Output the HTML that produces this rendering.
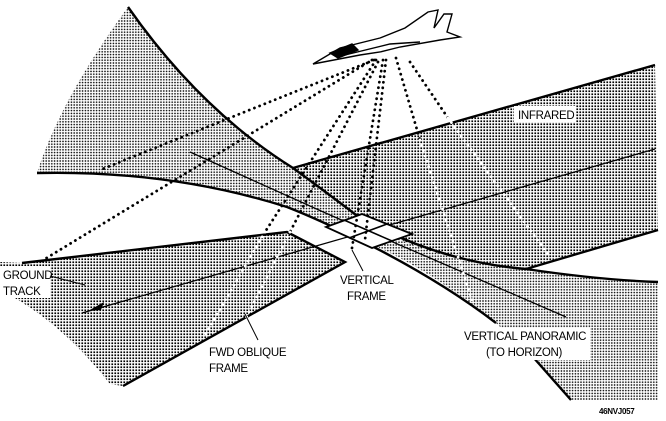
<!DOCTYPE html>
<html><head><meta charset="utf-8"><style>
body{margin:0;background:#fff}
svg{display:block}
text{font-family:"Liberation Sans",sans-serif;font-size:11.5px;fill:#000;letter-spacing:-0.3px}
</style></head><body>
<svg width="666" height="421" viewBox="0 0 666 421" xmlns="http://www.w3.org/2000/svg">
<defs>
<pattern id="fine" width="2.8" height="2.8" patternUnits="userSpaceOnUse"><rect width="2.8" height="2.8" fill="#fff"/><circle cx="1.4" cy="1.4" r="0.85" fill="#000"/></pattern>
<pattern id="coarse" width="3" height="3" patternUnits="userSpaceOnUse"><rect width="3" height="3" fill="#fff"/><rect x="0.4" y="0.4" width="1.7" height="1.7" fill="#000"/></pattern>
</defs>
<path d="M128,7 Q200,110 293,168 Q330,195 360,218 Q440,262 526,269 Q600,280 658,282 L658,400 L571,400 L533,357 L496,323 Q420,262 360,240 Q320,220 287,207 Q170,170 37,173 Q60,100 128,7 Z" fill="url(#fine)"/>
<path d="M293,168 L655,65 L658,230 L526,269 Q440,262 380,230 Q330,200 293,168 Z" fill="url(#coarse)"/>
<path d="M0,262 L22,263 L287,232 L345,262 L123,386 L110,384 Q60,320 0,290 Z" fill="url(#coarse)"/>
<g fill="none" stroke="#000" stroke-width="2.4">
<path d="M128,7 Q200,110 293,168 Q330,195 360,218 Q440,262 526,269 Q600,280 658,282"/>
<path d="M37,173 Q170,170 287,207 Q320,220 360,240 Q440,280 496,323"/>
<path d="M533,357 L571,400"/>
<path d="M293,168 L655,65"/>
<path d="M658,230 L526,269"/>
<path d="M22,263 L287,232 L345,262 L123,386"/>
</g>
<g fill="none" stroke="#000" stroke-width="1.3">
<path d="M190,152 L330,215 L430,258 L566,317"/>
<path d="M82,313 L655,149"/>
</g>
<path d="M326,227 L362,214 L412,234 L372,248 Z" fill="#fff" stroke="#000" stroke-width="1.8"/>
<path d="M344,220 L392,241 M387,224 L349,238" stroke="#000" stroke-width="1.6" fill="none"/>
<path d="M88,311 L104,302 L101,310 Z" fill="#000"/>
<g fill="none" stroke="#000" stroke-width="2.8" stroke-dasharray="0.1 5.5" stroke-linecap="round">
<path d="M372,60 L40,262"/>
<path d="M374,60 L100,170"/>
<path d="M376,60 L265,232"/>
<path d="M378,62 L290,232"/>
<path d="M383,60 L352,248"/>
<path d="M386,60 L365,240"/>
<path d="M396,58 L420,140"/>
<path d="M410,62 L448,118"/>
</g>
<g fill="none" stroke="#fff" stroke-width="2.8" stroke-dasharray="0.1 5.5" stroke-linecap="round">
<path d="M265,232 L205,335"/>
<path d="M290,232 L245,320"/>
<path d="M420,140 L473,303"/>
<path d="M448,118 L550,257"/>
</g>
<g fill="#fff" stroke="#000" stroke-width="1.4">
<path d="M313,64 L340,48 L380,38 L405,28 L428,12 L438,10 L434,28 L444,14 L452,14 L447,32 L460,37 L440,40 L400,47 L380,52 L360,55 Z"/>
<path d="M330,53 L352,44 L358,50 L338,58 Z" fill="#000"/>
<path d="M345,55 L390,44 L420,42" fill="none"/>
</g>
<rect x="514" y="106" width="62" height="16" fill="#fff"/>
<text x="518" y="119">INFRARED</text>
<rect x="0" y="266" width="50" height="32" fill="#fff"/>
<text x="3" y="279">GROUND</text>
<text x="3" y="295">TRACK</text>
<path d="M50,276 L85,285" stroke="#000" stroke-width="1"/>
<text x="340" y="284">VERTICAL</text>
<text x="347" y="300">FRAME</text>
<path d="M363,271 L352,250" stroke="#000" stroke-width="1"/>
<rect x="462" y="328" width="128" height="32" fill="#fff"/>
<text x="464" y="340">VERTICAL PANORAMIC</text>
<text x="486" y="356">(TO HORIZON)</text>
<text x="209" y="356">FWD OBLIQUE</text>
<text x="209" y="372">FRAME</text>
<path d="M258,340 L245,314" stroke="#000" stroke-width="1"/>
<text x="599" y="414" style="font-size:8px;font-weight:bold">46NVJ057</text>
</svg>
</body></html>
